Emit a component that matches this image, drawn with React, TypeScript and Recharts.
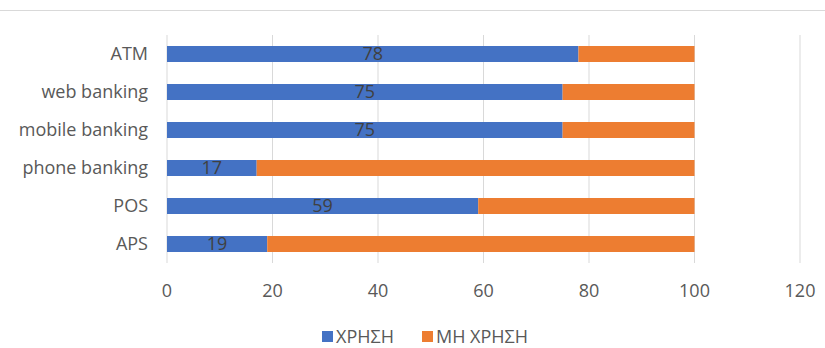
import React from 'react';
import { BarChart, Bar, XAxis, YAxis, CartesianGrid, Legend, LabelList } from 'recharts';

const categories = ['ATM', 'web banking', 'mobile banking', 'phone banking', 'POS', 'APS'];
const useValues = [78, 75, 75, 17, 59, 19];
const nonUseValues = [22, 25, 25, 83, 41, 81];
const xTicks = [0, 20, 40, 60, 80, 100, 120];
const seriesNames = ['ΧΡΗΣΗ', 'ΜΗ ΧΡΗΣΗ'];
const seriesColors = ['#4472C4', '#ED7D31'];

const data = categories.map((c, i) => ({ name: c, use: useValues[i], nonUse: nonUseValues[i] }));

const FONT = '"Open Sans", Lato, sans-serif';
const FS = 18;

const LegendContent = () => (
  <div style={{ height: 40, position: 'relative', fontFamily: FONT, fontSize: 18, color: '#595959' }}>
    <div style={{ position: 'absolute', left: 322, top: 16, display: 'flex', alignItems: 'center', whiteSpace: 'nowrap' }}>
      {seriesNames.map((n, i) => (
        <div key={n} style={{ display: 'flex', alignItems: 'center', marginRight: 28 }}>
          <span style={{ display: 'inline-block', width: 11, height: 11, background: seriesColors[i], marginRight: 3 }} />
          <span>{n}</span>
        </div>
      ))}
    </div>
  </div>
);

export default function App() {
  return (
    <div style={{ position: 'absolute', left: 0, top: 0, width: 825, height: 348, background: '#fff' }}>
      <div style={{ position: 'absolute', left: 0, top: 10, width: 825, height: 0, borderTop: '1px solid #d9d9d9' }} />
      <BarChart
        width={825}
        height={348}
        data={data}
        layout="vertical"
        margin={{ top: 35, right: 25, bottom: 0, left: 0 }}
        barSize={16}
      >
        <CartesianGrid horizontal={false} vertical={true} stroke="#d9d9d9" />
        <XAxis
          type="number"
          domain={[0, 120]}
          ticks={xTicks}
          axisLine={false}
          tickLine={false}
          tickSize={0}
          tickMargin={21}
          height={45}
          tick={{ fill: '#595959', fontSize: FS, fontFamily: FONT }}
        />
        <YAxis
          type="category"
          dataKey="name"
          width={167}
          axisLine={false}
          tickLine={false}
          tickSize={0}
          tickMargin={19}
          tick={{ fill: '#595959', fontSize: FS, fontFamily: FONT }}
        />
        <Legend verticalAlign="bottom" content={<LegendContent />} />
        <Bar dataKey="use" name={seriesNames[0]} stackId="a" fill={seriesColors[0]} isAnimationActive={false}>
          <LabelList dataKey="use" position="center" fill="#404040" fontSize={FS} fontFamily={FONT} />
        </Bar>
        <Bar dataKey="nonUse" name={seriesNames[1]} stackId="a" fill={seriesColors[1]} isAnimationActive={false} />
      </BarChart>
    </div>
  );
}
